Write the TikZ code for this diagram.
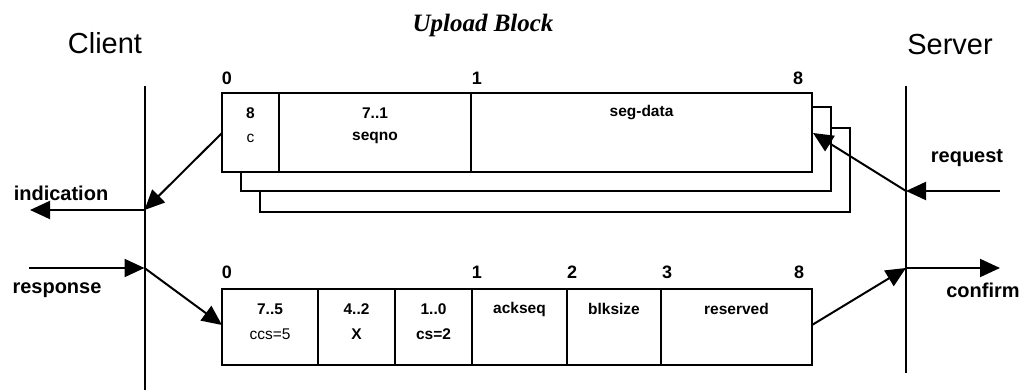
\documentclass[tikz,border=0pt]{standalone}
\usepackage{fontspec}
\setmainfont{Liberation Sans}
\newfontfamily\titlefont{Liberation Serif}
\usetikzlibrary{arrows.meta}
\begin{document}
\begin{tikzpicture}[x=1pt,y=-1pt,
  fieldbox/.style={draw,line width=2pt,inner sep=0pt,outer sep=0pt},
  ftxt/.style={font=\fontsize{15.5}{17}\selectfont\bfseries,inner sep=0pt},
  frtxt/.style={font=\fontsize{15.5}{17}\selectfont,inner sep=0pt},
  bitlbl/.style={font=\fontsize{18}{20}\selectfont\bfseries,inner sep=0pt},
  sidelbl/.style={font=\fontsize{20}{22}\selectfont\bfseries,inner sep=0pt},
  party/.style={font=\fontsize{29}{31}\selectfont,inner sep=0pt},
  lifeline/.style={line width=2pt},
  msg/.style={line width=2pt,-{Triangle[length=20pt,width=18pt]}},
  shadowline/.style={line width=2pt}]
\useasboundingbox (0,0) rectangle (1031,390);

% titles
\node[party] (client) at (105,43) {Client};
\node[party] (server) at (950,45) {Server};
\node[font=\titlefont\fontsize{25}{27}\selectfont\bfseries\itshape,inner sep=0pt] (title) at (483,25) {Upload Block};

% lifelines
\coordinate (cT) at (144.5,86);
\coordinate (cB) at (144.5,390);
\coordinate (sT) at (906,86);
\coordinate (sB) at (906,373);
\draw[lifeline] (cT) -- (cB);
\draw[lifeline] (sT) -- (sB);

% shadow frames of the upper block
\draw[shadowline] (260,191) -- (260,212) -- (850,212) -- (850,128) -- (831,128);
\draw[shadowline] (241,172) -- (241,191) -- (831,191) -- (831,107) -- (812,107);

% upper block
\node[fieldbox,minimum width=57pt,minimum height=79pt] (u1) at (250.5,132.5) {};
\node[fieldbox,minimum width=192pt,minimum height=79pt] (u2) at (375,132.5) {};
\node[fieldbox,minimum width=341pt,minimum height=79pt] (u3) at (641.5,132.5) {};
\node[ftxt] (u1a) at (250.5,113) {8};
\node[frtxt] (u1b) at (250.5,138) {c};
\node[ftxt] (u2a) at (375,113) {7..1};
\node[ftxt] (u2b) at (375,138) {seqno};
\node[ftxt] (u3a) at (641.5,113) {seg-data};
\node[bitlbl] (ub0) at (227,78) {0};
\node[bitlbl] (ub1) at (477,78) {1};
\node[bitlbl] (ub8) at (798,78) {8};

% lower block
\node[fieldbox,minimum width=96pt,minimum height=76pt] (l1) at (270,327) {};
\node[fieldbox,minimum width=77pt,minimum height=76pt] (l2) at (356.5,327) {};
\node[fieldbox,minimum width=77pt,minimum height=76pt] (l3) at (433.5,327) {};
\node[fieldbox,minimum width=95pt,minimum height=76pt] (l4) at (519.5,327) {};
\node[fieldbox,minimum width=94pt,minimum height=76pt] (l5) at (614,327) {};
\node[fieldbox,minimum width=151pt,minimum height=76pt] (l6) at (736.5,327) {};
\node[ftxt] (l1a) at (270,309) {7..5};
\node[frtxt] (l1b) at (270,334) {ccs=5};
\node[ftxt] (l2a) at (356.5,309) {4..2};
\node[ftxt] (l2b) at (356.5,334) {X};
\node[ftxt] (l3a) at (433.5,309) {1..0};
\node[ftxt] (l3b) at (433.5,334) {cs=2};
\node[ftxt] (l4a) at (519.5,309) {ackseq};
\node[ftxt] (l5a) at (614,309) {blksize};
\node[ftxt] (l6a) at (736.5,309) {reserved};
\node[bitlbl] (lb0) at (227,272) {0};
\node[bitlbl] (lb1) at (477,272) {1};
\node[bitlbl] (lb2) at (572,272) {2};
\node[bitlbl] (lb3) at (667,272) {3};
\node[bitlbl] (lb8) at (799,272) {8};

% message points
\coordinate (indFrom) at (222,133);
\coordinate (cInd) at (144.5,210);
\coordinate (indEnd) at (30,210);
\coordinate (reqStart) at (1000,191);
\coordinate (sReq) at (906,191);
\coordinate (reqTo) at (813,133);
\coordinate (resStart) at (29,268);
\coordinate (cRes) at (144.5,268);
\coordinate (resTo) at (222,325);
\coordinate (conFrom) at (812,325);
\coordinate (sCon) at (906,268);
\coordinate (conEnd) at (1000,268);

\draw[msg] (indFrom) -- (cInd);
\draw[msg] (cInd) -- (indEnd);
\draw[msg] (reqStart) -- (sReq);
\draw[msg] (sReq) -- (reqTo);
\draw[msg] (resStart) -- (cRes);
\draw[msg] (cRes) -- (resTo);
\draw[msg] (conFrom) -- (sCon);
\draw[msg] (sCon) -- (conEnd);

\node[sidelbl] (indication) at (61,193) {indication};
\node[sidelbl] (request) at (967,158) {request};
\node[sidelbl] (response) at (57,290) {response};
\node[sidelbl] (confirm) at (983,290) {confirm};
\end{tikzpicture}
\end{document}
